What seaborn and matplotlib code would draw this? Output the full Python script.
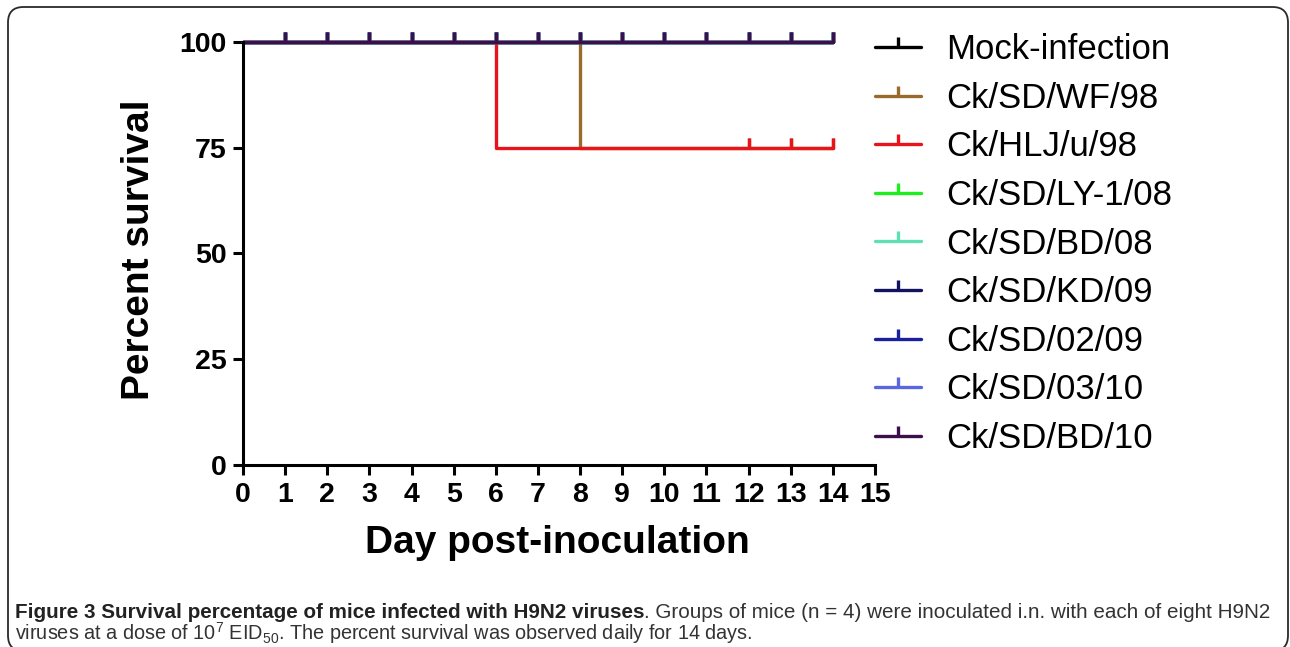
import matplotlib
matplotlib.use("Agg")
import matplotlib.pyplot as plt
import seaborn as sns
from matplotlib.lines import Line2D
from matplotlib.patches import FancyBboxPatch

# Data
days = [0, 1, 2, 3, 4, 5, 6, 7, 8, 9, 10, 11, 12, 13, 14]
groups = ["Mock-infection", "Ck/SD/WF/98", "Ck/HLJ/u/98", "Ck/SD/LY-1/08", "Ck/SD/BD/08",
          "Ck/SD/KD/09", "Ck/SD/02/09", "Ck/SD/03/10", "Ck/SD/BD/10"]
colors = ["#000000", "#9a6a2c", "#e8141c", "#1eee1e", "#5fe0b4",
          "#12125e", "#1a1f9c", "#5a66e0", "#3a0f4c"]

full_survival = [100, 100, 100, 100, 100, 100, 100, 100, 100, 100, 100, 100, 100, 100, 100]
wf98_survival = [100, 100, 100, 100, 100, 100, 100, 100, 75, 75, 75, 75, 75, 75, 75]
hlj98_survival = [100, 100, 100, 100, 100, 100, 75, 75, 75, 75, 75, 75, 75, 75, 75]
survival = [full_survival, wf98_survival, hlj98_survival, full_survival, full_survival,
            full_survival, full_survival, full_survival, full_survival]

# censored observations (tick marks)
censor_full = [1, 2, 3, 4, 5, 6, 7, 8, 9, 10, 11, 12, 13, 14]
censor_drop = [12, 13, 14]
censored = [censor_full, censor_drop, censor_drop, censor_full, censor_full,
            censor_full, censor_full, censor_full, censor_full]

x_ticks = [0, 1, 2, 3, 4, 5, 6, 7, 8, 9, 10, 11, 12, 13, 14, 15]
y_ticks = [0, 25, 50, 75, 100]

sns.set_theme(style="ticks")
plt.rcParams["font.family"] = ["Liberation Sans", "DejaVu Sans"]
for key in ["text.color", "axes.labelcolor", "xtick.color", "ytick.color"]:
    plt.rcParams[key] = "black"

fig = plt.figure(figsize=(12.9, 6.47), dpi=100)
ax = fig.add_axes([0.1884, 0.2813, 0.4899, 0.6538])

lw = 2.4
for name, surv, cens, col in zip(groups, survival, censored, colors):
    sns.lineplot(x=days, y=surv, drawstyle="steps-post", color=col, linewidth=lw,
                 ax=ax, legend=False, clip_on=False)
    cens_y = [surv[days.index(d)] for d in cens]
    ax.plot(cens, cens_y, linestyle="none", marker=2, markersize=7.5,
            markeredgewidth=lw, color=col, clip_on=False)

ax.set_xlim(0, 15)
ax.set_ylim(0, 100)
ax.set_xticks(x_ticks)
ax.set_yticks(y_ticks)
ax.set_xticklabels([str(t) for t in x_ticks], fontsize=20.5, fontweight="bold")
ax.set_yticklabels([str(t) for t in y_ticks], fontsize=20.5, fontweight="bold")
ax.tick_params(axis="both", direction="out", length=7, width=2.2, color="black", pad=5)
sns.despine(ax=ax)
for side in ["left", "bottom"]:
    ax.spines[side].set_linewidth(2.2)
    ax.spines[side].set_color("black")

ax.set_xlabel("Day post-inoculation", fontsize=28, fontweight="bold")
ax.set_ylabel("Percent survival", fontsize=28, fontweight="bold")
ax.xaxis.set_label_coords(0.498, -0.142)
ax.yaxis.set_label_coords(-0.136, 0.508)

handles = [Line2D([0], [0], color=c, linewidth=lw, marker=2, markersize=7,
                  markeredgewidth=lw) for c in colors]
ax.legend(handles, groups, loc="upper left", bbox_to_anchor=(1.0, 1.021), frameon=False,
          fontsize=25, handlelength=1.33, handletextpad=0.72, labelspacing=0.45,
          borderpad=0, borderaxespad=0, numpoints=1)

# rounded frame around the figure panel
frame = FancyBboxPatch((8 / 1290, -4 / 647), 1280 / 1290, 644 / 647,
                       boxstyle="round,pad=0,rounding_size=0.012",
                       transform=fig.transFigure, fill=False,
                       edgecolor="#2a2a2a", linewidth=1.3, mutation_aspect=1290 / 647)
fig.add_artist(frame)

# caption
cap_font = ["Liberation Sans"]
t1 = fig.text(15 / 1290, 1 - 622 / 647, "Figure 3 Survival percentage of mice infected with H9N2 viruses",
              fontsize=14.85, fontweight="bold", family=cap_font, color="#222222", va="bottom")
ax.annotate(". Groups of mice (n = 4) were inoculated i.n. with each of eight H9N2",
            xy=(1, 0), xycoords=t1, va="bottom", ha="left", fontsize=14.85,
            family=cap_font, color="#333333", annotation_clip=False)
fig.text(15 / 1290, 1 - 646 / 647,
         r"viruses at a dose of 10$^{\mathregular{7}}$ EID$_{\mathregular{50}}$. The percent survival was observed daily for 14 days.",
         fontsize=14.3, family=cap_font, color="#333333", va="bottom")

fig.savefig("out.png", dpi=100)
